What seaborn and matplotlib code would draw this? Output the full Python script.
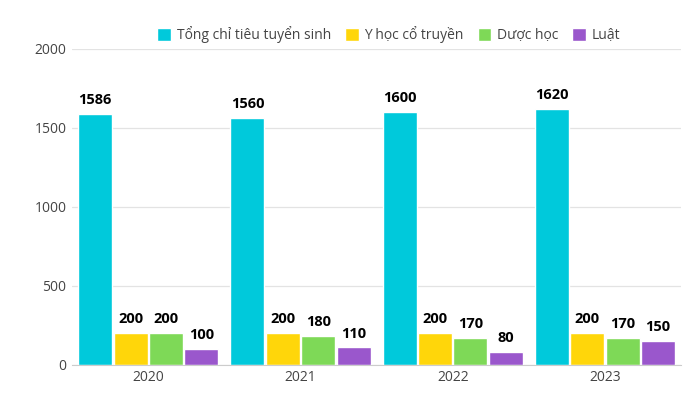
import pandas as pd
import matplotlib.pyplot as plt
import seaborn as sns

years = ["2020", "2021", "2022", "2023"]
series = ["Tổng chỉ tiêu tuyển sinh", "Y học cổ truyền", "Dược học", "Luật"]
tong = [1586, 1560, 1600, 1620]
yhct = [200, 200, 200, 200]
duoc = [200, 180, 170, 170]
luat = [100, 110, 80, 150]
colors = ["#00C9DB", "#FFD60A", "#7ED957", "#9A57CC"]

rows = []
for name, vals in zip(series, [tong, yhct, duoc, luat]):
    for y, v in zip(years, vals):
        rows.append({"year": y, "series": name, "value": v})
df = pd.DataFrame(rows)

sns.set_style("white")
plt.rcParams["font.family"] = ["Open Sans", "DejaVu Sans"]

fig = plt.figure(figsize=(7, 3.94), dpi=100)
ax = fig.add_axes([0.103, 0.074, 0.870, 0.802])

sns.barplot(data=df, x="year", y="value", hue="series", palette=colors,
            saturation=1, width=0.93, gap=0.04, ax=ax, legend=True)

for c in ax.containers:
    ax.bar_label(c, padding=5, fontsize=10.5, fontweight="bold", color="black")

ax.set_ylim(0, 2000)
ax.set_yticks([0, 500, 1000, 1500, 2000])
ax.yaxis.grid(True, color="#e3e3e3", linewidth=0.9)
ax.set_axisbelow(True)
for s in ["top", "right", "left"]:
    ax.spines[s].set_visible(False)
ax.spines["bottom"].set_color("#cccccc")
ax.tick_params(axis="both", length=0, labelsize=10, labelcolor="#444444")
ax.tick_params(axis="y", pad=4)
ax.set_xlabel("")
ax.set_ylabel("")

ax.legend(loc="center", bbox_to_anchor=(0.52, 1.045), ncol=4, frameon=False,
          fontsize=10, handlelength=1.0, handleheight=1.0, handletextpad=0.4,
          columnspacing=1.0, labelcolor="#444444")

plt.savefig("out.png", dpi=100)
